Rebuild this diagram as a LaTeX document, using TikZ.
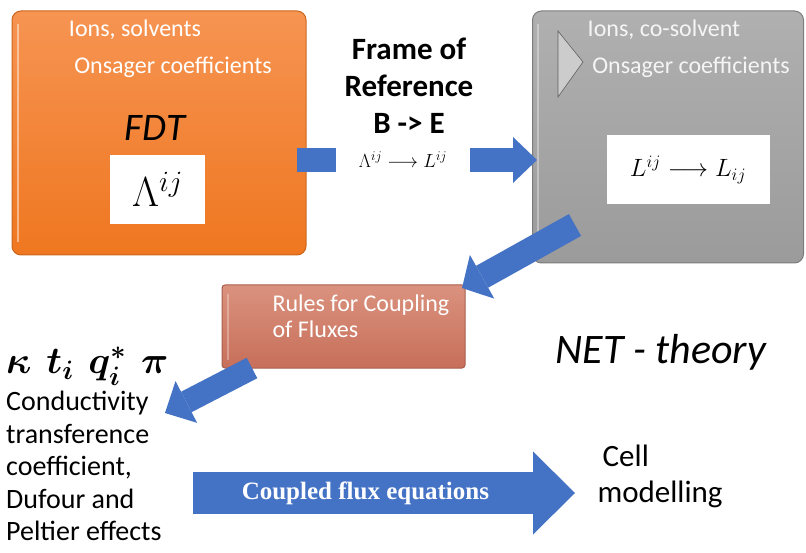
\documentclass[tikz,border=0pt]{standalone}
\usepackage{fix-cm}
\usepackage{fontspec}
\usepackage{amsmath}
\usepackage{amssymb}
\usepackage{xcolor}
\usetikzlibrary{arrows.meta}
\setmainfont{Carlito}
\newfontfamily\eqfont{Liberation Serif}
\newcommand{\fsz}[2]{\fontsize{#1}{#2}\selectfont}
\definecolor{arrowblue}{HTML}{4472C4}
\definecolor{fdttop}{HTML}{F69452}
\definecolor{fdtbot}{HTML}{EF7720}
\definecolor{graytop}{HTML}{B0B0B0}
\definecolor{graybot}{HTML}{9B9B9B}
\definecolor{rulestop}{HTML}{DA927E}
\definecolor{rulesbot}{HTML}{C76F5A}
\tikzset{
  box/.style={draw, rounded corners=9pt, line width=1pt, inner sep=0pt},
  fdtbox/.style={box, draw=fdtbot!85!black, top color=fdttop, bottom color=fdtbot},
  graybox/.style={box, draw=graybot!80!black, top color=graytop, bottom color=graybot},
  rulesbox/.style={box, rounded corners=3pt, draw=rulesbot!85!black, top color=rulestop, bottom color=rulesbot},
  whitebox/.style={fill=white, inner sep=0pt},
  boxtext/.style={font=\fsz{24}{26}, text=white},
  flow/.style args={#1/#2/#3}{draw=arrowblue, line width=#1,
    -{Triangle[length=#2, width=#3, line width=0pt]}},
}

\begin{document}
\begin{tikzpicture}[x=1pt,y=-1pt]
  \useasboundingbox (0,0) rectangle (806,553);

  % boxes
  \node[fdtbox, minimum width=294pt, minimum height=244pt] (fdt) at (159,133) {};
  \node[graybox, minimum width=271pt, minimum height=252pt] (cosolv) at (668,137) {};
  \node[rulesbox, minimum width=243pt, minimum height=83pt] (rules) at (343.5,326.5) {};
  \draw[white, opacity=.45, line width=2pt] (18,24) -- (18,242);
  \draw[white, opacity=.35, line width=2pt] (538,24) -- (538,250);
  \draw[white, opacity=.3, line width=2pt] (228,294) -- (228,360);
  \filldraw[fill=gray!40, draw=gray!75!black, line width=.6pt] (558,31) -- (583,62) -- (558,97) -- cycle;

  % text in the boxes
  \node[boxtext] (ions1) at (135,30) {Ions, solvents};
  \node[boxtext] (ons1) at (173,67) {Onsager coefficients};
  \node[font=\fsz{39}{44}\itshape] (fdtlbl) at (155,128) {FDT};
  \node[whitebox, minimum width=95pt, minimum height=69pt] (lam) at (157.5,189.5) {\fsz{42}{46}$\Lambda^{ij}$};
  \node[boxtext, text=white!92!gray] (ions2) at (664,30) {Ions, co-solvent};
  \node[boxtext, text=white!92!gray] (ons2) at (691,67) {Onsager coefficients};
  \node[whitebox, minimum width=163pt, minimum height=69pt] (lij) at (688,170) {\fsz{25}{29}$L^{ij}\longrightarrow L_{ij}$};
  \node[boxtext, align=left, anchor=west] (rtext) at (269,316) {Rules for Coupling\\of Fluxes};

  % frame of reference
  \node[font=\fsz{31}{37}\bfseries, align=center] (frame) at (409,86) {Frame of\\Reference\\B -> E};
  \coordinate (mid) at (403,160);
  \draw[flow=24pt/24pt/46pt, shorten <=-10pt, shorten >=-5pt] (fdt.east |- mid) -- (cosolv.west |- mid);
  \node[whitebox, minimum width=134pt, minimum height=28pt] (lab) at (mid) {\fsz{19}{23}$\Lambda^{ij}\longrightarrow L^{ij}$\hspace{12pt}};

  % coupling
  \coordinate (t1) at (575,225);
  \coordinate (h1) at (462,288);
  \draw[flow=25pt/23pt/50pt] (t1) -- (h1);
  \node[anchor=west, inner sep=0pt, font=\fsz{38}{40}] (coef) at (6,366) {$\boldsymbol{\kappa}\ \,\boldsymbol{t_i}\ \,\boldsymbol{q_i^*}\ \,\boldsymbol{\pi}$};
  \node[anchor=north west, align=left, inner sep=0pt, font=\fsz{28}{32.5}] (props) at (6,391)
    {Conductivity\\transference\\coefficient,\\Dufour and\\Peltier effects};
  \coordinate (t2) at (252,368);
  \coordinate (h2) at (165,413);
  \draw[flow=23pt/24pt/47pt] (t2) -- (h2);

  \node[font=\fsz{42}{46}\itshape] (net) at (661,352) {NET - theory};
  \node[anchor=west, align=left, font=\fsz{31}{36}] (cell) at (594,476) {\,Cell\\modelling};
  \coordinate (t3) at (193,493);
  \draw[flow=42pt/42pt/83pt, shorten >=19pt] (t3) -- (t3 -| cell.west)
    node[pos=.43, text=white, font=\eqfont\fsz{25}{28}\bfseries] (eqs) {Coupled flux equations};
\end{tikzpicture}
\end{document}
